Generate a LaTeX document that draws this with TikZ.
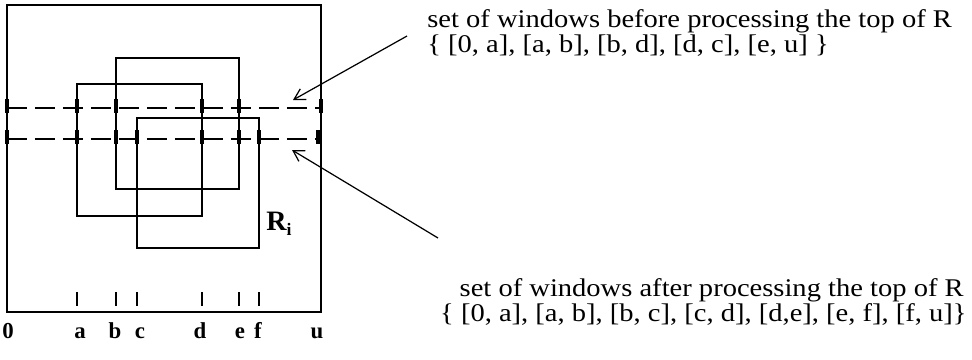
\documentclass[tikz,border=0pt]{standalone}
\usepackage{fontspec}
\setmainfont{Liberation Serif}
\newfontfamily\winfont[FakeStretch=1.12]{Liberation Serif}
\usetikzlibrary{arrows.meta}

\begin{document}
\begin{tikzpicture}[x=0.02cm,y=-0.02cm]
\tikzset{
    winFrame/.style={draw=black,line width=0.7pt},
    winRect/.style={draw=black,line width=0.6pt},
    winRectR/.style={draw=black,line width=1.6pt},
    winDash/.style={draw=black,line width=1.5pt,dash pattern=on 0.4cm off 0.16cm},
    winMark/.style={rectangle,fill=black,minimum width=2.5pt,minimum height=8pt,inner sep=0pt},
    winTick/.style={draw=black,line width=0.6pt},
    winLabel/.style={anchor=base,inner sep=0pt,font=\fontsize{13}{13}\selectfont\bfseries},
    winText/.style={anchor=base west,inner sep=0pt,font=\winfont\fontsize{14.5}{14.5}\selectfont},
    winArrow/.style={draw=black,line width=0.7pt,-{Straight Barb[length=6pt,width=7pt]}},
}
\useasboundingbox (0,0) rectangle (972,359);

% frame and rectangles
\draw[winFrame] (7,5) rectangle (321,312);
\draw[winRect] (77,84) rectangle (202,216);
\draw[winRect] (116,58) rectangle (239,189);
\draw[winRectR] (137,118) rectangle (259,248);
\node[anchor=base west,inner sep=0pt,font=\fontsize{16}{16}\selectfont\bfseries] (rLab) at (266,230) {R\raisebox{-0.45ex}{\fontsize{10}{10}\selectfont i}};

% windows before and after the top of R
\draw[winDash] (7,108) -- (321,108);
\draw[winDash] (7,139) -- (318,139);
\foreach \x/\n in {7/0,77/a,116/b,202/d,239/e,321/u}
    \node[winMark] (mb\n) at (\x,106) {};
\foreach \x/\n in {7/0,77/a,116/b,137/c,202/d,239/e,259/f,318/u}
    \node[winMark] (ma\n) at (\x,137) {};

% ticks and labels
\foreach \x in {77,116,137,202,239,259}
    \draw[winTick] (\x,292) -- (\x,306);
\node[winLabel] (l0) at (8,338) {0};
\node[winLabel] (la) at (80,338) {a};
\node[winLabel] (lb) at (115,338) {b};
\node[winLabel] (lc) at (140,338) {c};
\node[winLabel] (ld) at (200,338) {d};
\node[winLabel] (le) at (240,338) {e};
\node[winLabel] (lf) at (258,338) {f};
\node[winLabel] (lu) at (317,338) {u};

% texts
\node[winText] (beforeTop) at (427,27) {set of windows before processing the top of R};
\node[winText] (beforeSet) at (427,52) {\{ [0, a], [a, b], [b, d], [d, c], [e, u] \}};
\node[winText,anchor=base east] (afterTop) at (964,296) {set of windows after processing the top of R};
\node[winText,anchor=base east] (afterSet) at (967,321) {\{ [0, a], [a, b], [b, c], [c, d], [d,e], [e, f], [f, u]\}};

\coordinate (beforeTail) at (407,36);
\coordinate (beforeHead) at (293,100);
\coordinate (afterTail) at (438,238);
\coordinate (afterHead) at (292,150);
\draw[winArrow] (beforeTail) -- (beforeHead);
\draw[winArrow] (afterTail) -- (afterHead);
\end{tikzpicture}
\end{document}
